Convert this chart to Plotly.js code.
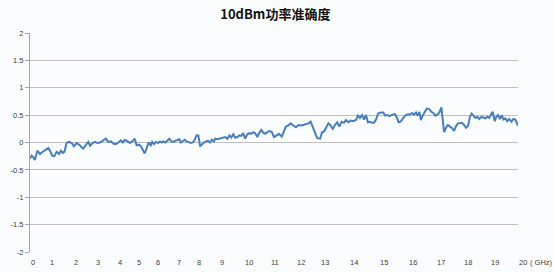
<!DOCTYPE html>
<html>
<head>
<meta charset="utf-8">
<script src="https://cdn.plot.ly/plotly-3.0.1.min.js"></script>
<style>html,body{margin:0;padding:0;background:#f9fdfd;}#chart{width:554px;height:272px;}</style>
</head>
<body>
<div id="chart"></div>
<script>
// Frequency (GHz)
const freqGHz = [
0,0.07,0.14,0.20,0.30,0.41,0.52,0.64,0.75,0.82,0.91,1.00,1.09,1.19,1.27,1.34,1.41,1.50,1.60,1.71,
1.80,1.91,2.02,2.12,2.18,2.30,2.39,2.46,2.57,2.66,2.76,2.87,3.00,3.11,3.21,3.32,3.41,3.52,3.62,3.72,
3.80,3.89,4.00,4.10,
4.21,4.29,4.37,4.47,4.55,4.62,4.70,4.78,4.86,4.95,5.01,5.08,5.16,5.25,5.33,5.40,5.46,5.55,5.63,5.71,
5.79,5.87,5.95,6.04,6.12,6.18,6.26,6.34,6.42,6.50,6.59,6.67,6.75,6.82,6.90,6.97,7.05,7.13,7.21,7.30,
7.38,7.46,7.54,7.59,7.68,7.76,7.84,7.92,8.00,8.09,8.17,8.25,8.33,8.41,8.50,8.58,8.66,8.74,8.82,8.91,
8.99,9.07,9.15,9.23,9.32,9.40,9.48,9.56,9.64,9.73,9.81,
9.91,10.00,10.11,10.20,10.32,10.41,10.49,10.59,10.68,10.79,10.90,11.00,11.09,11.20,11.31,11.41,11.50,
11.59,11.68,11.77,11.89,11.97,12.05,12.13,12.23,12.32,12.41,12.50,12.59,12.68,12.77,12.87,12.95,13.05,
13.14,13.25,13.36,13.44,13.52,13.61,13.69,13.77,13.85,13.93,14.02,14.10,14.18,14.27,14.37,14.48,14.56,
14.64,14.73,
14.86,14.96,15.03,15.11,15.19,15.27,15.37,15.46,15.57,15.66,15.74,15.82,15.89,15.96,16.02,16.09,16.16,
16.26,16.36,16.45,16.53,16.61,16.69,16.77,16.86,16.91,16.97,17.05,17.13,17.21,17.30,17.38,17.46,17.54,
17.62,17.70,17.79,17.87,17.95,18.03,18.10,18.17,18.25,18.33,18.41,18.50,18.58,18.66,18.74,18.82,18.91,
18.96,19.05,19.10,19.18,19.26,19.34,19.40,19.48,19.56,19.64,19.73,19.81,19.89,20.00
];
// Power accuracy (dB)
const accuracy = [
-0.29,-0.24,-0.27,-0.32,-0.15,-0.21,-0.17,-0.13,-0.10,-0.15,-0.24,-0.25,-0.17,-0.21,-0.15,-0.19,-0.17,-0.01,0.01,-0.01,
-0.07,-0.01,-0.04,-0.09,-0.11,-0.04,0.01,-0.06,-0.01,0.01,-0.01,0,0.03,0.07,0.01,0.02,-0.02,-0.03,0,0.04,
0,0.05,0.02,-0.01,
0.03,0.07,-0.05,-0.04,-0.07,-0.13,-0.20,-0.11,0,-0.05,0.01,-0.03,0.01,-0.01,0.02,0,0.02,0,0.04,0.07,
0.02,0.01,0.03,0.05,0.06,0,0.02,0.05,0.02,0.01,-0.01,0,0.05,0.13,0.13,-0.07,-0.03,0,0.02,0.03,
0,0.05,0.02,0.07,0.06,0.07,0.07,0.08,0.10,0.07,0.13,0.09,0.15,0.09,0.10,0.13,0.12,0.17,0.07,0.15,
0.17,0.16,0.19,0.17,0.10,0.18,0.23,0.18,0.16,0.19,0.21,
0.19,0.10,0.13,0.16,0.11,0.19,0.29,0.31,0.35,0.31,0.28,0.32,0.31,0.32,0.33,0.35,0.38,
0.29,0.19,0.08,0.07,0.19,0.20,0.27,0.35,0.31,0.25,0.32,0.37,0.29,0.38,0.36,0.41,0.37,
0.40,0.39,0.41,0.49,0.45,0.50,0.42,0.50,0.37,0.38,0.36,0.36,0.42,0.53,0.55,0.55,0.49,
0.50,0.48,
0.51,0.52,0.46,0.37,0.38,0.43,0.49,0.51,0.51,0.54,0.51,0.55,0.49,0.56,0.41,0.49,0.54,
0.62,0.61,0.56,0.54,0.49,0.51,0.54,0.64,0.43,0.19,0.27,0.32,0.29,0.26,0.21,0.30,0.35,
0.36,0.36,0.32,0.27,0.30,0.47,0.53,0.50,0.45,0.47,0.43,0.47,0.46,0.44,0.47,0.45,0.52,
0.56,0.39,0.46,0.50,0.43,0.50,0.42,0.44,0.39,0.43,0.38,0.43,0.42,0.31
];
const yTickVals = [2,1.5,1,0.5,0,-0.5,-1,-1.5,-2];
const yTickText = ["2","1.5","1","0.5","0","-0.5","-1","-1.5","-2"];
const xLabelText = ["0","1","2","3","4","5","6","7","8","9","10","11","12","13","14","15","16","17","18","19","20"];
const xUnitText = "( GHz)";
const titleText = "10dBm功率准确度";

// label pixel centres (layout only)
const xLabelPx = [32.7,51.7,76,98,120,139,157.7,179,198.5,221.7,249,275,301,325,354,384,413,441,468,495,523];
const plotLeft = 30, plotRight = 518;
const toPaper = px => (px - plotLeft) / (plotRight - plotLeft);

const labelFont = {family: "Liberation Sans, Arial, sans-serif", size: 7.5, color: "#404040"};
const annotations = xLabelText.map((t, i) => ({
  text: t, xref: "paper", yref: "paper", x: toPaper(xLabelPx[i]), y: 0,
  xanchor: "center", yanchor: "middle", yshift: -10, showarrow: false, font: labelFont
}));
annotations.push({text: xUnitText, xref: "paper", yref: "paper", x: toPaper(528), y: 0,
  xanchor: "left", yanchor: "middle", yshift: -10, showarrow: false, font: labelFont});

const trace = {
  x: freqGHz, y: accuracy, type: "scatter", mode: "lines",
  line: {color: "#4a7ebb", width: 2}, hoverinfo: "skip"
};

const layout = {
  width: 554, height: 272,
  margin: {l: 30, r: 36, t: 33, b: 20, pad: 0},
  paper_bgcolor: "#f9fdfd", plot_bgcolor: "#f9fdfd",
  showlegend: false,
  title: {
    text: titleText, x: 0.497, xanchor: "center", y: 1 - 14/272, yref: "container", yanchor: "middle",
    font: {family: "Noto Sans CJK SC, sans-serif", size: 13, color: "#111", weight: "bold"}
  },
  xaxis: {range: [0, 20], showgrid: false, zeroline: false, showline: false, showticklabels: false, ticks: ""},
  yaxis: {
    range: [-2, 2], tickvals: yTickVals, ticktext: yTickText,
    showgrid: true, gridcolor: "#c0c0c0", gridwidth: 1, zeroline: false,
    showline: true, linecolor: "#a6a6a6", linewidth: 1,
    ticks: "outside", ticklen: 4, tickcolor: "#a6a6a6", tickfont: labelFont
  },
  annotations: annotations
};

Plotly.newPlot("chart", [trace], layout, {staticPlot: true, displayModeBar: false});
</script>
</body>
</html>
